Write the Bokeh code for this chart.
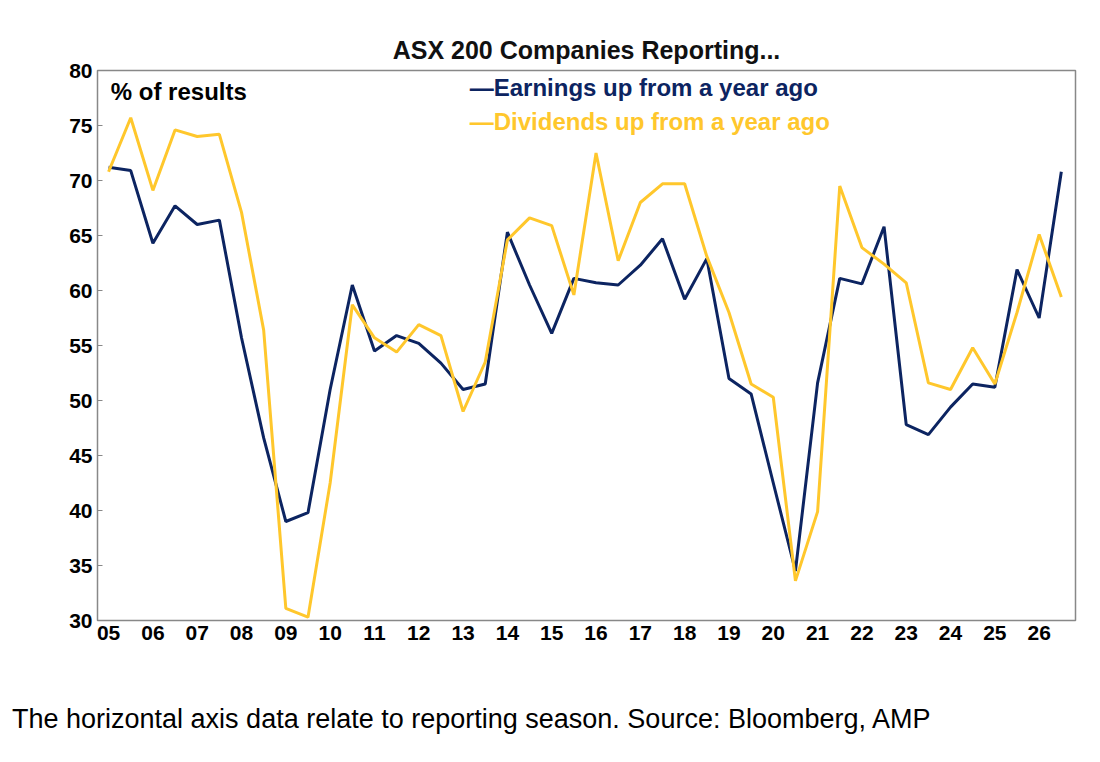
from bokeh.plotting import figure
from bokeh.models import Label, Title, FixedTicker, Range1d, Div
from bokeh.layouts import column
from bokeh.embed import file_html
from bokeh.resources import INLINE

years = [2005 + 0.5 * i for i in range(44)]
earnings = [71.2, 70.9, 64.3, 67.7, 66.0, 66.4, 55.7, 46.6, 39.0, 39.8,
            51.0, 60.5, 54.5, 55.9, 55.2, 53.4, 51.0, 51.5, 65.3, 60.5,
            56.1, 61.1, 60.7, 60.5, 62.3, 64.7, 59.2, 62.9, 52.0, 50.6,
            42.5, 34.5, 51.6, 61.1, 60.6, 65.8, 47.8, 46.9, 49.4, 51.5,
            51.2, 61.9, 57.5, 70.8]
dividends = [70.8, 75.7, 69.1, 74.6, 74.0, 74.2, 67.1, 56.4, 31.1, 30.3,
             42.5, 58.7, 55.7, 54.4, 56.9, 55.9, 49.0, 53.5, 64.6, 66.6,
             65.9, 59.6, 72.5, 62.7, 68.0, 69.7, 69.7, 63.1, 58.0, 51.5,
             50.3, 33.6, 39.9, 69.5, 63.9, 62.4, 60.7, 51.6, 51.0, 54.8,
             51.5, 58.0, 65.1, 59.4]
tick_years = list(range(2005, 2027))
tick_labels = {y: f"{y % 100:02d}" for y in tick_years}

NAVY = "#0c2461"
GOLD = "#ffc72c"
FONT = "Liberation Sans"

p = figure(width=1091, height=648, output_backend="svg", toolbar_location=None,
           x_range=Range1d(2004.75, 2026.82), y_range=Range1d(30, 80),
           min_border_left=97, min_border_right=16, min_border_top=70, min_border_bottom=28)
p.add_layout(Title(text="ASX 200 Companies Reporting...", align="center",
                   text_font=FONT, text_font_size="25px", text_font_style="bold",
                   text_color="#111111", standoff=14), "above")

p.line(years, earnings, color=NAVY, line_width=3)
p.line(years, dividends, color=GOLD, line_width=3)

p.xgrid.visible = False
p.ygrid.visible = False
p.outline_line_color = "#888888"
p.outline_line_width = 1.5
for ax in (p.xaxis[0], p.yaxis[0]):
    ax.axis_line_color = "#888888"
    ax.major_tick_line_color = "#888888"
    ax.minor_tick_line_color = None
    ax.major_label_text_font = FONT
    ax.major_label_text_font_size = "21px"
    ax.major_label_text_font_style = "bold"
    ax.major_label_text_color = "black"
p.xaxis.ticker = FixedTicker(ticks=tick_years)
p.xaxis.major_label_overrides = tick_labels
p.xaxis.major_tick_in = 0
p.xaxis.major_tick_out = 0
p.yaxis.ticker = FixedTicker(ticks=list(range(30, 81, 5)))
p.yaxis.major_tick_in = 5
p.yaxis.major_tick_out = 0

p.add_layout(Label(x=2005.05, y=78.1, text="% of results", text_font=FONT,
                   text_font_size="24px", text_font_style="bold", text_color="black",
                   text_baseline="middle"))
p.add_layout(Label(x=2013.15, y=78.5, text="—Earnings up from a year ago", text_font=FONT,
                   text_font_size="24px", text_font_style="bold", text_color=NAVY,
                   text_baseline="middle"))
p.add_layout(Label(x=2013.15, y=75.35, text="—Dividends up from a year ago", text_font=FONT,
                   text_font_size="24px", text_font_style="bold", text_color=GOLD,
                   text_baseline="middle"))

cap = Div(text="The horizontal axis data relate to reporting season. Source: Bloomberg, AMP",
          styles={"font-family": FONT, "font-size": "27px", "color": "black",
                  "margin-left": "12px", "margin-top": "52px"}, width=1050)

open("out.html", "w").write(file_html(column(p, cap), INLINE))
